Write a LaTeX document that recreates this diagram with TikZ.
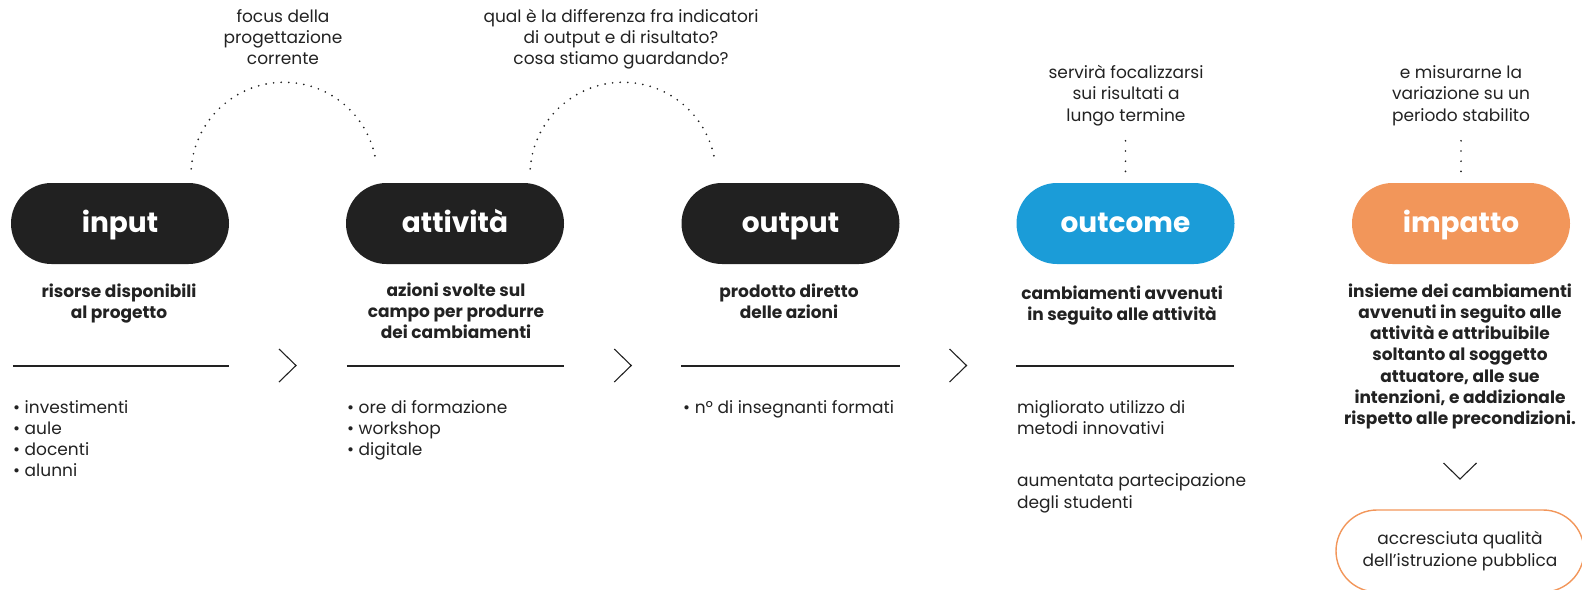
\documentclass[tikz,border=0pt]{standalone}
\usepackage{fontspec}
\setmainfont{Poppins}
\usetikzlibrary{calc}
\definecolor{ink}{HTML}{222222}
\definecolor{pilldark}{HTML}{212121}
\definecolor{pillblue}{HTML}{1B9CD8}
\definecolor{pillorange}{HTML}{F2965A}
\begin{document}
\begin{tikzpicture}[x=1pt,y=-1pt,
  pill/.style={fill=#1, rounded corners=40.5pt, minimum width=218pt, minimum height=81pt,
    inner sep=0pt, text=white, text height=21pt, text depth=4pt,
    font=\fontsize{28}{34}\selectfont\bfseries},
  note/.style={align=center, text=ink, font=\fontsize{17}{21.2}\selectfont, inner sep=0pt, anchor=base},
  desc/.style={align=center, text=ink, font=\fontsize{17}{21.3}\selectfont\bfseries, inner sep=0pt, anchor=base},
  itemlist/.style={align=left, text=ink, font=\fontsize{17}{21.3}\selectfont, inner sep=0pt, anchor=base west},
  hrule/.style={draw=ink, line width=1.3pt},
  chev/.style={draw=ink, line width=1.1pt},
  dotarc/.style={draw=ink, line width=1.9pt, line cap=round, dash pattern=on 0pt off 7.6pt},
  dotline/.style={draw=ink, line width=1.9pt, line cap=round, dash pattern=on 0pt off 10.2pt},
  goalbox/.style={draw=pillorange, line width=1.4pt, rounded corners=41pt, minimum width=248pt,
    minimum height=82pt, inner sep=0pt, align=center, text=ink, font=\fontsize{17}{21.2}\selectfont},
]
\useasboundingbox (0,0) rectangle (1582,589);

% pills
\node[pill=pilldark]   (input)   at (120,223.5)   {input};
\node[pill=pilldark]   (attivita) at (455,223.5)  {attività};
\node[pill=pilldark]   (output)  at (790.5,223.5) {output};
\node[pill=pillblue]   (outcome) at (1125.5,223.5) {outcome};
\node[pill=pillorange] (impatto) at (1461,223.5)  {impatto};

% top notes (anchored at the baseline of the last line)
\node[note] (n1) at (283,64.4) {focus della\\progettazione\\corrente};
\node[note] (n2) at (621,64.4) {qual è la differenza fra indicatori\\di output e di risultato?\\cosa stiamo guardando?};
\node[note] (n3) at (1126,121) {servirà focalizzarsi\\sui risultati a\\lungo termine};
\node[note] (n4) at (1461,121) {e misurarne la\\variazione su un\\periodo stabilito};

% dotted arcs
\draw[dotarc] ($(input.north east)+(-38,-14)$) arc[start angle=184, end angle=352, radius=93];
\draw[dotarc] ($(attivita.north east)+(-34,-14)$) arc[start angle=184, end angle=352, radius=93];

% dotted verticals
\draw[dotline] ($(outcome.north)+(0,-42)$) -- ($(outcome.north)+(0,-11)$);
\draw[dotline] ($(impatto.north)+(0,-42)$) -- ($(impatto.north)+(0,-11)$);

% descriptions
\node[desc] (d1) at (119,318.3) {risorse disponibili\\al progetto};
\node[desc] (d2) at (456,338.6) {azioni svolte sul\\campo per produrre\\dei cambiamenti};
\node[desc] (d3) at (789,318.3) {prodotto diretto\\delle azioni};
\node[desc] (d4) at (1122,320.3) {cambiamenti avvenuti\\in seguito alle attività};
\node[desc] (d5) at (1460,424.8) {insieme dei cambiamenti\\avvenuti in seguito alle\\attività e attribuibile\\soltanto al soggetto\\attuatore, alle sue\\intenzioni, e addizionale\\rispetto alle precondizioni.};

% rules
\draw[hrule] ([xshift=2pt]input.west |- 0,366) -- (input.east |- 0,366);
\draw[hrule] ([xshift=1pt]attivita.west |- 0,366) -- (attivita.east |- 0,366);
\draw[hrule] (output.west |- 0,366) -- (output.east |- 0,366);
\draw[hrule] (outcome.west |- 0,366) -- ([xshift=-1pt]outcome.east |- 0,366);

% chevrons between columns
\foreach \a/\b in {input/attivita, attivita/output, output/outcome}{
  \coordinate (m) at ($(\a.east)!0.5!(\b.west)$);
  \draw[chev] ($(m |- 0,349)+(-8.5,0)$) -- ($(m |- 0,365.5)+(8.5,0)$) -- ($(m |- 0,382)+(-8.5,0)$);
}

% lists
\node[itemlist] (l1) at (13,476.9) {• investimenti\\• aule\\• docenti\\• alunni};
\node[itemlist] (l2) at (347,455.6) {• ore di formazione\\• workshop\\• digitale};
\node[itemlist] (l3) at (683,413) {• nº di insegnanti formati};
\node[itemlist] (l4a) at (1017,434.5) {migliorato utilizzo di\\metodi innovativi};
\node[itemlist] (l4b) at (1017,508) {aumentata partecipazione\\degli studenti};

% down chevron and goal
\coordinate (dc) at (1460,471);
\draw[chev] ($(dc)+(-16.5,-8)$) -- ($(dc)+(0,8)$) -- ($(dc)+(16.5,-8)$);
\node[goalbox] (goal) at (1460,551) {accresciuta qualità\\dell’istruzione pubblica};
\end{tikzpicture}
\end{document}
